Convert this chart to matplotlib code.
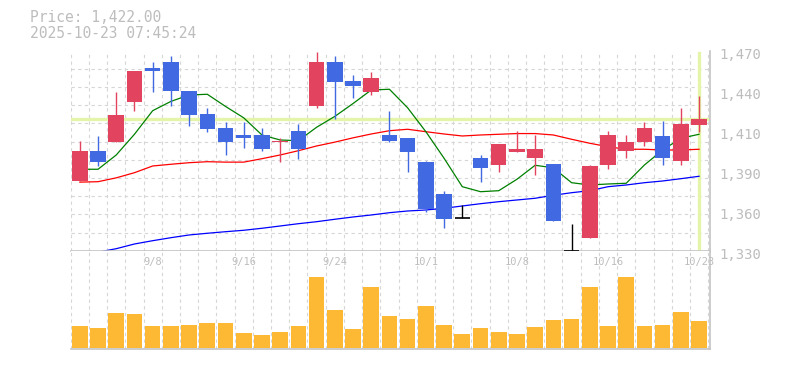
import matplotlib
matplotlib.use("Agg")
import numpy as np
import matplotlib.pyplot as plt
from matplotlib.transforms import ScaledTranslation, blended_transform_factory

# daily candles, 2025-09-02 .. 2025-10-23 (35 sessions)
opens = [1379, 1400, 1406, 1434, 1458, 1462, 1442, 1426, 1416, 1411, 1411, 1406, 1414, 1431, 1462, 1449, 1441, 1411,
         1409, 1392, 1370, 1353, 1395, 1390, 1399, 1395, 1391, 1330, 1339, 1390, 1400, 1406, 1410, 1393, 1418]
highs = [1407, 1410, 1441, 1456, 1462, 1466, 1442, 1430, 1420, 1420, 1416, 1409, 1419, 1469, 1466, 1453, 1455, 1428,
         1409, 1393, 1372, 1362, 1397, 1405, 1414, 1411, 1391, 1349, 1390, 1414, 1411, 1420, 1421, 1430, 1438]
lows = [1379, 1389, 1406, 1428, 1441, 1431, 1417, 1413, 1397, 1402, 1400, 1392, 1394, 1430, 1422, 1437, 1439, 1406,
        1385, 1357, 1346, 1353, 1378, 1385, 1399, 1383, 1351, 1330, 1339, 1387, 1395, 1403, 1390, 1390, 1413]
closes = [1400, 1392, 1425, 1456, 1456, 1442, 1425, 1415, 1406, 1409, 1401, 1407, 1401, 1462, 1448, 1445, 1451, 1407,
          1399, 1359, 1352, 1353, 1388, 1405, 1401, 1401, 1351, 1330, 1389, 1411, 1406, 1416, 1395, 1419, 1422]

# moving averages
ma_short = [1387, 1387, 1397, 1411.5, 1428, 1434.5, 1439, 1439.5, 1431, 1423, 1411, 1407.5, 1407, 1416.4, 1424, 1433,
            1442.5, 1443, 1430, 1413.3, 1394.7, 1374.8, 1371.3, 1372, 1380, 1389.8, 1388, 1377.6, 1376, 1376.7,
            1377.2, 1390, 1400.5, 1408.7, 1411.5]
ma_mid = [1378, 1378.3, 1381, 1384.6, 1389.3, 1390.5, 1391.6, 1392.3, 1392, 1392, 1394.4, 1397, 1400, 1403.3, 1406,
          1409, 1411.7, 1414, 1415, 1413.3, 1411.7, 1410.3, 1411, 1411.5, 1412, 1412, 1411, 1408, 1405.2, 1402.8,
          1401, 1401, 1400.5, 1400.5, 1401]
ma_long = [np.nan, 1329, 1331.4, 1334.7, 1337, 1339.1, 1341, 1342.2, 1343.3, 1344.3, 1345.7, 1347.3, 1348.9, 1350.3,
           1352, 1353.6, 1355, 1356.6, 1357.8, 1358.5, 1359.7, 1361.3, 1362.9, 1364.3, 1365.5, 1366.7, 1368.8,
           1370.6, 1372, 1374.8, 1376, 1377.6, 1378.8, 1380.4, 1382.1]

volume = [67, 61, 107, 104, 67, 67, 70, 77, 77, 47, 40, 50, 67, 215, 115, 58, 185,
          97, 88, 127, 70, 43, 61, 50, 43, 64, 85, 88, 184, 67, 215, 67, 70, 109, 82]

date_ticks = [4, 9, 14, 19, 24, 29, 34]
date_labels = ["9/8", "9/16", "9/24", "10/1", "10/8", "10/16", "10/23"]
timestamp = "2025-10-23 07:45:24"

UP, DOWN, FLAT = "#e2435f", "#4169e1", "#000000"
GRID, FRAME, TXT = "#d6d6d6", "#c4c4c4", "#bdbdbd"
MONO = "DejaVu Sans Mono"

W, H = 785, 370
fig = plt.figure(figsize=(W / 100, H / 100), dpi=100)


def px_axes(x0, y0, x1, y1):
    return fig.add_axes([x0 / W, 1 - y1 / H, (x1 - x0) / W, (y1 - y0) / H])


ax = px_axes(70.7, 50.7, 710, 250.7)
axv = px_axes(70.7, 250.7, 710, 349.3)

o, h, l, c = map(np.array, (opens, highs, lows, closes))
x = np.arange(len(o))
colors = np.where(c > o, UP, np.where(c < o, DOWN, FLAT))

# grid / frame
for a in (ax, axv):
    a.set_xlim(-0.5, 34.6)
    a.set_xticks([])
    a.set_xticks(np.arange(-0.5, len(x), 1), minor=True)
    a.grid(which="minor", axis="x", color=GRID, ls=(0, (3, 3)), lw=0.8)
    a.set_axisbelow(True)
    a.tick_params(which="both", length=0)
    for s in ("top", "left"):
        a.spines[s].set_visible(False)
    for s in ("right", "bottom"):
        a.spines[s].set_color(FRAME)
        a.spines[s].set_linewidth(1.2)

ax.set_ylim(1330, 1470)
ax.set_yticks(np.linspace(1330, 1470, 12), minor=True)
ax.grid(which="minor", axis="y", color=GRID, ls=(0, (3, 3)), lw=0.8)
ax.yaxis.tick_right()
yt = np.linspace(1330, 1470, 6)
ax.set_yticks(yt)
ax.set_yticklabels([f"{int(round(v, -1)):,}" for v in yt])
ax.tick_params(axis="y", which="major", pad=7, labelsize=10, labelcolor=TXT)
for lab in ax.get_yticklabels():
    lab.set_fontfamily(MONO)
    lab.set_transform(lab.get_transform() + ScaledTranslation(0, -2.7 / 100, fig.dpi_scale_trans))

# current price markers
ax.axhline(closes[-1], color="#e4f5aa", lw=2.4, zorder=1)
ax.axvline(x[-1], ymin=0.01, ymax=0.99, color="#e4f5aa", lw=2.4, zorder=1)

# moving averages
ax.plot(x, ma_long, color="#0000ff", lw=0.9, zorder=2, clip_on=False)
ax.plot(x, ma_mid, color="#ff0000", lw=0.9, zorder=2)
ax.plot(x, ma_short, color="#008000", lw=0.9, zorder=2)

# candles
ax.vlines(x, l, h, colors=colors, lw=1.0, zorder=3, clip_on=False)
ax.bar(x, np.abs(c - o), bottom=np.minimum(o, c), width=0.85, color=colors, lw=0, zorder=4, clip_on=False)
flat = c == o
ax.hlines(c[flat], x[flat] - 0.425, x[flat] + 0.425, colors=FLAT, lw=1.2, zorder=4, clip_on=False)

# volume
axv.bar(x, volume, width=0.86, color="#fdb933", lw=0, zorder=2)
axv.set_ylim(-3, 293)
axv.set_yticks([])
tr = blended_transform_factory(axv.transData, axv.transAxes)
for i, lab in zip(date_ticks, date_labels):
    axv.text(i, 0.885, lab, transform=tr, ha="center", va="center", fontsize=7.5,
             family=MONO, color=TXT, clip_on=False, zorder=5)

fig.text(30 / W, 1 - 18 / H, f"Price: {closes[-1]:,.2f}", family=MONO, fontsize=10.5, color=TXT, va="center")
fig.text(30 / W, 1 - 33 / H, timestamp, family=MONO, fontsize=10.5, color=TXT, va="center")

fig.savefig("out.png", dpi=100)
